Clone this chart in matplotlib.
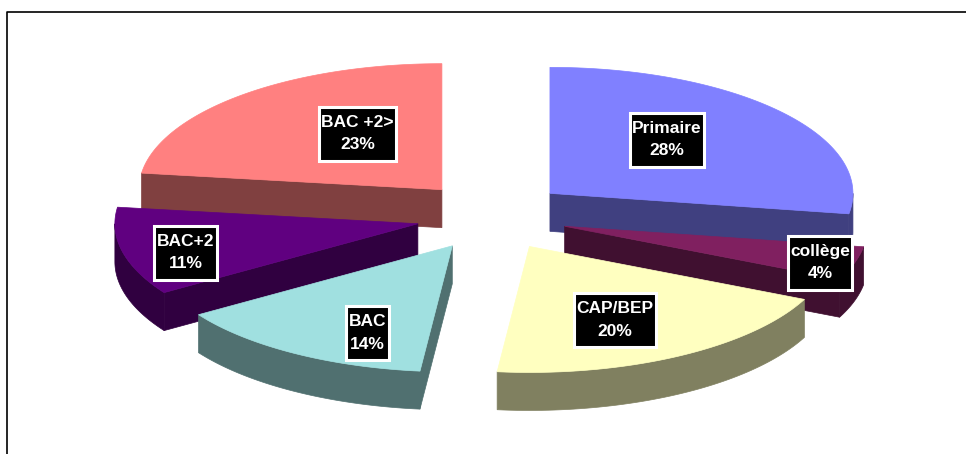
import numpy as np
import matplotlib
matplotlib.use('Agg')
import matplotlib.pyplot as plt
from matplotlib.patches import Polygon, Rectangle

labels = ['Primaire', 'collège', 'CAP/BEP', 'BAC', 'BAC+2', 'BAC +2>']
values = [27.6, 4.3, 19.8, 14.1, 11.3, 22.9]
top_colors = ['#8080FF', '#802060', '#FFFFC0', '#A0E0E0', '#600080', '#FF8080']
side_colors = ['#404080', '#401030', '#808060', '#507070', '#300040', '#804040']
label_pos = [(667, 139.5), (820, 262.5), (615, 320), (367.5, 333), (185.5, 252.5), (357.5, 133.5)]

cx, cy = 492, 216
rx, ry = 303, 126
explode_x, explode_y = 76, 35
depth = 38


def point(x0, y0, ang):
    # angle runs clockwise from the top of the pie, in degrees
    a = np.radians(ang)
    return x0 + rx * np.sin(a), y0 - ry * np.cos(a)


fig = plt.figure(figsize=(9.66, 4.54), dpi=100)
ax = fig.add_axes([0, 0, 1, 1])
ax.set_xlim(0, 966)
ax.set_ylim(454, 0)
ax.axis('off')

# frame, only top and left show
ax.plot([966, 7, 7], [12, 12, 454], color='black', lw=1.2)

total = sum(values)
edges = np.cumsum([0] + values) / total * 360

slices = []
for i in range(len(values)):
    start, end = edges[i], edges[i + 1]
    mid = np.radians((start + end) / 2)
    a0 = cx + explode_x * np.sin(mid)
    b0 = cy - explode_y * np.cos(mid)
    slices.append((b0, a0, start, end, i))

# back to front
for b0, a0, start, end, i in sorted(slices):
    side = side_colors[i]
    # cut faces that look at the viewer
    if end < 180:
        x1, y1 = point(a0, b0, end)
        ax.add_patch(Polygon([(a0, b0), (x1, y1), (x1, y1 + depth), (a0, b0 + depth)],
                             fc=side, ec=side, lw=0.5))
    if start > 180:
        x1, y1 = point(a0, b0, start)
        ax.add_patch(Polygon([(a0, b0), (x1, y1), (x1, y1 + depth), (a0, b0 + depth)],
                             fc=side, ec=side, lw=0.5))
    # outer wall, front half of the arc only
    lo, hi = max(start, 90), min(end, 270)
    if lo < hi:
        t = np.linspace(lo, hi, 60)
        xs, ys = point(a0, b0, t)
        wall = np.r_[np.c_[xs, ys], np.c_[xs[::-1], ys[::-1] + depth]]
        ax.add_patch(Polygon(wall, fc=side, ec=side, lw=0.5))
    # top
    t = np.linspace(start, end, 80)
    xs, ys = point(a0, b0, t)
    top = np.r_[[[a0, b0]], np.c_[xs, ys]]
    ax.add_patch(Polygon(top, fc=top_colors[i], ec=top_colors[i], lw=0.5))

renderer = fig.canvas.get_renderer()
for name, v, (x, y) in zip(labels, values, label_pos):
    t = ax.text(x, y, f'{name}\n{v:.0f}%', color='white', ha='center', va='center',
                family='Liberation Sans', weight='bold', fontsize=12.5, linespacing=1.65,
                zorder=11)
    # box is taller than the text needs, so a text bbox will not do
    bb = t.get_window_extent(renderer)
    w = bb.width + 5
    ax.add_patch(Rectangle((x - w / 2, y - 27), w, 54, fc='black', ec='white',
                           lw=2.2, zorder=10))

fig.savefig('out.png', dpi=100)
